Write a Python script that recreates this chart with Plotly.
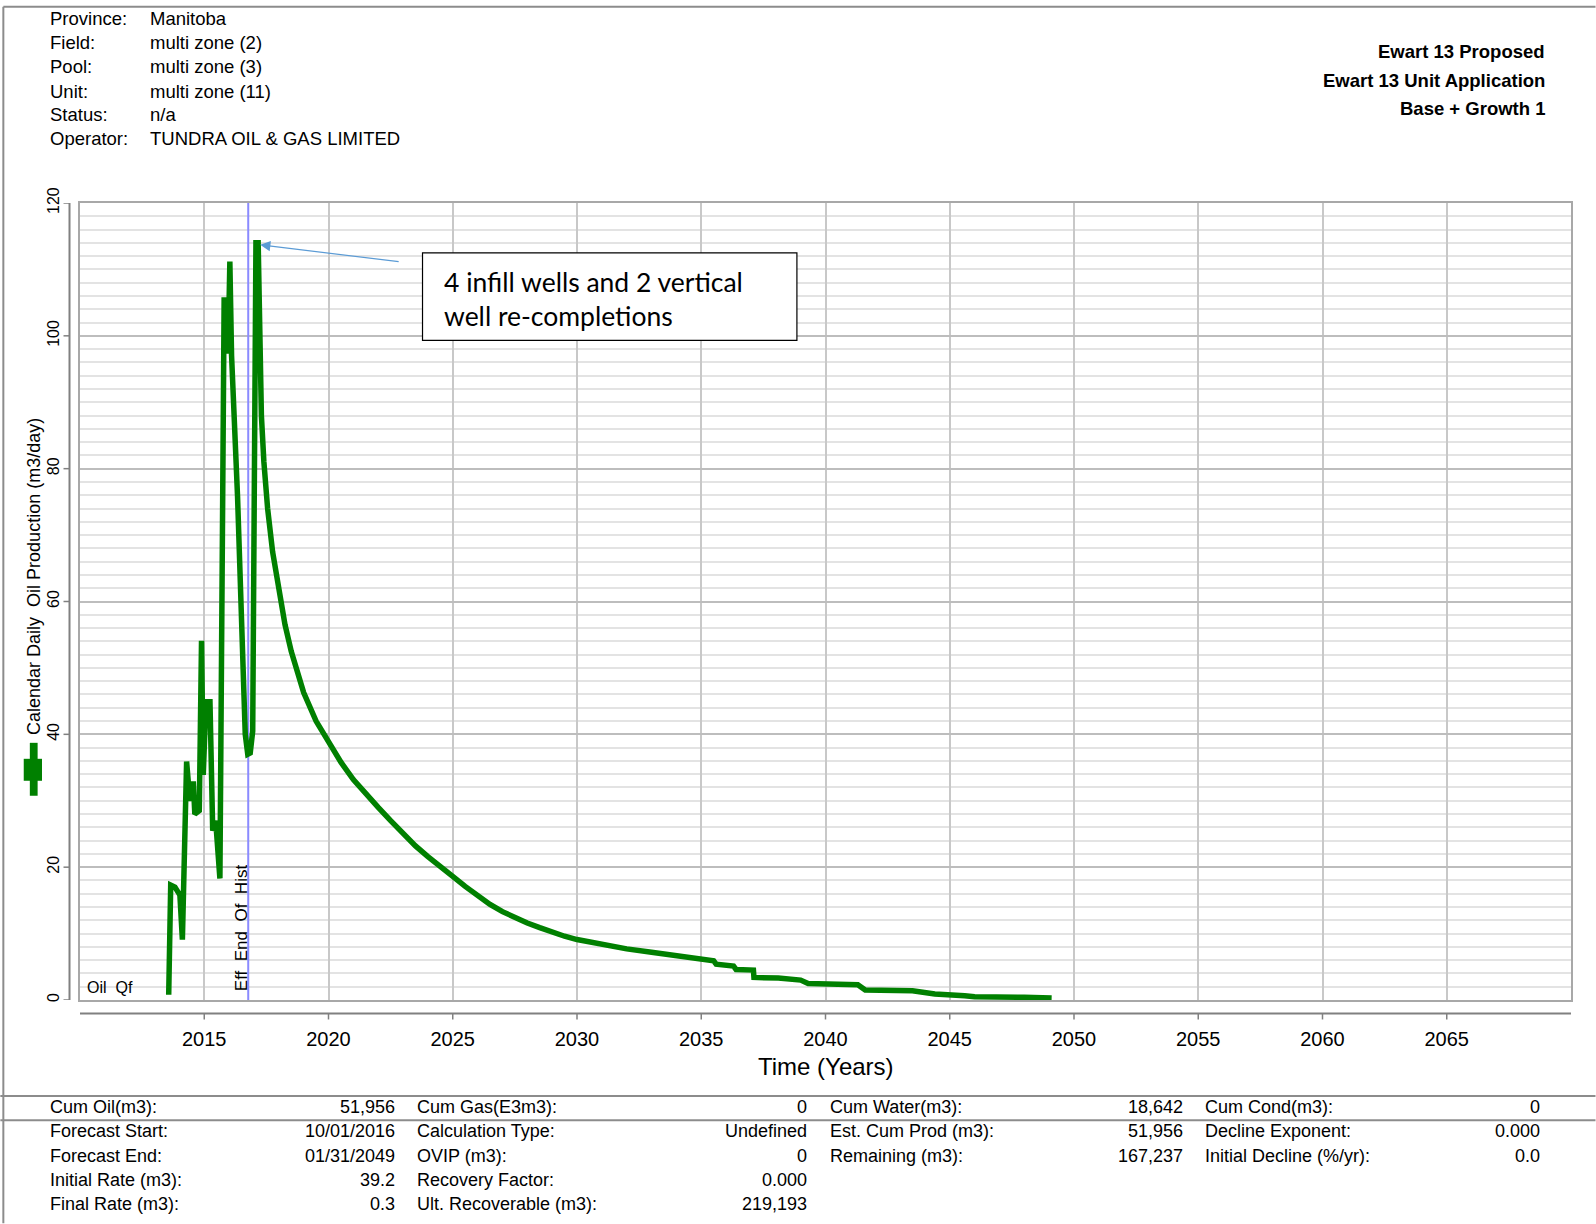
import plotly.graph_objects as go

# ---------------- data ----------------
years = [2013.57, 2013.65, 2013.82, 2014.02, 2014.12, 2014.29, 2014.42, 2014.56, 2014.62,
         2014.80, 2014.89, 2014.96, 2015.07, 2015.23, 2015.34, 2015.46, 2015.63, 2015.80,
         2015.93, 2015.96, 2016.03, 2016.10, 2016.34, 2016.52, 2016.65, 2016.75, 2016.85,
         2016.95, 2017.08, 2017.17, 2017.30, 2017.40, 2017.55, 2017.75, 2018.00, 2018.25,
         2018.50, 2018.75, 2019.00, 2019.50, 2020.00, 2020.50, 2021.00, 2021.50, 2022.00,
         2022.50, 2023.00, 2023.50, 2024.00, 2024.50, 2025.00, 2025.50, 2026.00, 2026.50,
         2027.00, 2027.50, 2028.00, 2028.50, 2029.00, 2029.50, 2030.00, 2030.50, 2031.00,
         2031.50, 2032.00, 2033.00, 2034.00, 2035.00, 2035.50, 2035.60, 2036.30, 2036.40,
         2037.10, 2037.12, 2038.10, 2039.00, 2039.30, 2041.30, 2041.60, 2043.50, 2044.40,
         2045.60, 2046.00, 2048.00, 2049.10]
rates = [0.8, 17.3, 17.0, 15.8, 9.1, 35.9, 30.0, 32.9, 28.0,
         28.5, 54.1, 33.9, 44.9, 44.9, 25.5, 27.0, 18.3, 105.4,
         105.4, 97.3, 111.2, 97.0, 75.8, 52.8, 40.0, 37.0, 37.2,
         40.5, 114.0, 114.0, 88.0, 81.0, 74.0, 67.5, 61.5, 56.5,
         52.5, 49.0, 46.3, 42.0, 38.8, 35.8, 33.2, 31.0, 29.0,
         27.0, 25.0, 23.2, 21.6, 20.2, 18.6, 17.1, 15.7, 14.4,
         13.3, 12.4, 11.6, 10.9, 10.2, 9.6, 9.1, 8.7, 8.3,
         8.0, 7.7, 7.2, 6.6, 6.1, 5.9, 5.4, 5.1, 4.6,
         4.5, 3.4, 3.3, 3.0, 2.5, 2.3, 1.5, 1.4, 0.9,
         0.65, 0.5, 0.4, 0.3]

x_ticks = [2015, 2020, 2025, 2030, 2035, 2040, 2045, 2050, 2055, 2060, 2065]
y_ticks = [0, 20, 40, 60, 80, 100, 120]
x_range = [2010, 2070]
y_range = [0, 120]
eoh_year = 2016.77

header_labels = ["Province:", "Field:", "Pool:", "Unit:", "Status:", "Operator:"]
header_values = ["Manitoba", "multi zone (2)", "multi zone (3)", "multi zone (11)", "n/a",
                 "TUNDRA OIL & GAS LIMITED"]
titles = ["Ewart 13 Proposed", "Ewart 13 Unit Application", "Base + Growth 1"]

tbl_labels_1 = ["Cum Oil(m3):", "Forecast Start:", "Forecast End:", "Initial Rate (m3):", "Final Rate (m3):"]
tbl_values_1 = ["51,956", "10/01/2016", "01/31/2049", "39.2", "0.3"]
tbl_labels_2 = ["Cum Gas(E3m3):", "Calculation Type:", "OVIP (m3):", "Recovery Factor:", "Ult. Recoverable (m3):"]
tbl_values_2 = ["0", "Undefined", "0", "0.000", "219,193"]
tbl_labels_3 = ["Cum Water(m3):", "Est. Cum Prod (m3):", "Remaining (m3):"]
tbl_values_3 = ["18,642", "51,956", "167,237"]
tbl_labels_4 = ["Cum Cond(m3):", "Decline Exponent:", "Initial Decline (%/yr):"]
tbl_values_4 = ["0", "0.000", "0.0"]

note_text = "4 infill wells and 2 vertical<br>well re-completions"
note_point = (2017.25, 113.7)

# ---------------- layout geometry (pixels) ----------------
W, H = 1596, 1224
L, R, T, B = 79.7, 1571.5, 202.5, 1000.5


def fx(p):
    return (p - L) / (R - L)


def fy(p):
    return (B - p) / (B - T)


FONT = "Arial, Liberation Sans, sans-serif"
TXT = "#000000"

fig = go.Figure()
# End-of-history marker line (drawn first so the production curve sits on top)
fig.add_trace(go.Scatter(x=[eoh_year, eoh_year], y=y_range, mode="lines",
                         line=dict(color="#8A8AFF", width=2),
                         showlegend=False, hoverinfo="skip", cliponaxis=False))
fig.add_trace(go.Scatter(x=years, y=rates, mode="lines",
                         line=dict(color="#008000", width=5.5),
                         showlegend=False, hoverinfo="x+y"))

shapes = []
annotations = []

# offset axes
ax_y_x = 69.2
ax_x_y = 1014.0
shapes.append(dict(type="line", xref="paper", yref="paper", x0=fx(ax_y_x), x1=fx(ax_y_x),
                   y0=0, y1=1, line=dict(color="#808080", width=2)))
for v in y_ticks:
    shapes.append(dict(type="line", xref="paper", yref="y", x0=fx(ax_y_x - 6), x1=fx(ax_y_x),
                       y0=v, y1=v, line=dict(color="#808080", width=1.5)))
shapes.append(dict(type="line", xref="paper", yref="paper", x0=0, x1=1,
                   y0=fy(ax_x_y), y1=fy(ax_x_y), line=dict(color="#808080", width=2)))
for v in x_ticks:
    shapes.append(dict(type="line", xref="x", yref="paper", x0=v, x1=v,
                       y0=fy(ax_x_y), y1=fy(ax_x_y + 6), line=dict(color="#808080", width=1.5)))

# outer frame lines
shapes.append(dict(type="line", xref="paper", yref="paper", x0=fx(3), x1=fx(W), y0=fy(6), y1=fy(6),
                   line=dict(color="#8C8C8C", width=2)))
shapes.append(dict(type="line", xref="paper", yref="paper", x0=fx(3), x1=fx(3), y0=fy(6), y1=fy(H),
                   line=dict(color="#8C8C8C", width=2)))
for yy in (1096.5, 1121.0):
    shapes.append(dict(type="line", xref="paper", yref="paper", x0=fx(0), x1=fx(W), y0=fy(yy), y1=fy(yy),
                       line=dict(color="#8C8C8C", width=2)))

# legend cross symbol beside y title
shapes.append(dict(type="rect", xref="paper", yref="paper", x0=fx(29.5), x1=fx(37.3),
                   y0=fy(796), y1=fy(743), fillcolor="#008000", line=dict(width=0)))
shapes.append(dict(type="rect", xref="paper", yref="paper", x0=fx(23.4), x1=fx(41.7),
                   y0=fy(781), y1=fy(759), fillcolor="#008000", line=dict(width=0)))

# note box
shapes.append(dict(type="rect", xref="paper", yref="paper", x0=fx(422.4), x1=fx(797),
                   y0=fy(340), y1=fy(252.4), fillcolor="white",
                   line=dict(color="#000000", width=1.2)))

# header
hdr_y = [17.3, 41.7, 66.2, 90.6, 114.0, 138.4]
for lab, val, yy in zip(header_labels, header_values, hdr_y):
    annotations.append(dict(text=lab, xref="paper", yref="paper", x=fx(47.8), y=fy(yy),
                            xanchor="left", yanchor="middle", showarrow=False,
                            font=dict(family=FONT, size=18.5, color=TXT)))
    annotations.append(dict(text=val, xref="paper", yref="paper", x=fx(147.6), y=fy(yy),
                            xanchor="left", yanchor="middle", showarrow=False,
                            font=dict(family=FONT, size=18.5, color=TXT)))
for t, yy in zip(titles, [50.9, 79.4, 107.9]):
    annotations.append(dict(text="<b>" + t + "</b>", xref="paper", yref="paper", x=fx(1547.5), y=fy(yy),
                            xanchor="right", yanchor="middle", showarrow=False,
                            font=dict(family=FONT, size=18.5, color=TXT)))

# table
row_y = [1107.5, 1131.9, 1156.3, 1180.8, 1205.2]
cols = [(tbl_labels_1, tbl_values_1, 47.8, 397.0),
        (tbl_labels_2, tbl_values_2, 415.3, 809.3),
        (tbl_labels_3, tbl_values_3, 828.6, 1184.9),
        (tbl_labels_4, tbl_values_4, 1203.2, 1542.2)]
for labs, vals, lx, vx in cols:
    for lab, val, yy in zip(labs, vals, row_y):
        annotations.append(dict(text=lab, xref="paper", yref="paper", x=fx(lx), y=fy(yy),
                                xanchor="left", yanchor="middle", showarrow=False,
                                font=dict(family=FONT, size=18, color=TXT)))
        annotations.append(dict(text=val, xref="paper", yref="paper", x=fx(vx), y=fy(yy),
                                xanchor="right", yanchor="middle", showarrow=False,
                                font=dict(family=FONT, size=18, color=TXT)))

# y title
annotations.append(dict(text="Calendar Daily\u00a0\u00a0Oil Production (m3/day)", xref="paper", yref="paper",
                        x=fx(33.6), y=fy(576), textangle=-90, xanchor="center", yanchor="middle",
                        showarrow=False, font=dict(family=FONT, size=18, color=TXT)))
# x title
annotations.append(dict(text="Time (Years)", xref="paper", yref="paper",
                        x=fx(826), y=fy(1067), xanchor="center", yanchor="middle",
                        showarrow=False, font=dict(family=FONT, size=24, color=TXT)))
# in-plot labels
annotations.append(dict(text="Eff\u00a0\u00a0End\u00a0\u00a0Of\u00a0\u00a0Hist", xref="x", yref="y",
                        x=2016.50, y=10.9, textangle=-90, xanchor="center", yanchor="middle",
                        showarrow=False, font=dict(family=FONT, size=17, color=TXT)))
annotations.append(dict(text="Oil\u00a0\u00a0Qf", xref="x", yref="y", x=2010.19, y=1.9,
                        xanchor="left", yanchor="middle", showarrow=False,
                        font=dict(family=FONT, size=16, color=TXT)))
# note text and arrow
annotations.append(dict(text=note_text, xref="paper", yref="paper", x=fx(441.5), y=fy(298.5),
                        xanchor="left", yanchor="middle", align="left", showarrow=False,
                        font=dict(family="Lato, Carlito, sans-serif", size=26.5, color="#000000")))
annotations.append(dict(text="", x=note_point[0], y=note_point[1], xref="x", yref="y",
                        showarrow=True, ax=140, ay=17, arrowcolor="#5B9BD5", arrowwidth=1.2,
                        arrowhead=2, arrowsize=1.7, standoff=0))

fig.update_layout(
    width=W, height=H, autosize=False,
    margin=dict(l=L, r=W - R, t=T, b=H - B, pad=0),
    paper_bgcolor="white", plot_bgcolor="white",
    showlegend=False,
    shapes=shapes, annotations=annotations,
    xaxis=dict(range=x_range, tickmode="array", tickvals=x_ticks, ticks="",
               showgrid=True, gridcolor="#C8C8C8", gridwidth=2,
               showline=True, mirror=True, linecolor="#A8A8A8", linewidth=1.5,
               zeroline=False, ticklabelstandoff=20,
               tickfont=dict(family=FONT, size=20, color=TXT)),
    yaxis=dict(range=y_range, tickmode="array", tickvals=y_ticks, ticks="",
               showgrid=True, gridcolor="#BDBDBD", gridwidth=1.5,
               minor=dict(dtick=2, showgrid=True, gridcolor="#E3E3E3", gridwidth=1.5, ticks=""),
               showline=True, mirror=True, linecolor="#A8A8A8", linewidth=1.5,
               zeroline=True, zerolinecolor="#8EE88E", zerolinewidth=3,
               tickangle=-90, ticklabelstandoff=13,
               tickfont=dict(family=FONT, size=16, color=TXT)),
)

fig.write_html("out.html", config={"displayModeBar": False},
               post_script="document.body.style.margin='0px';document.body.style.padding='0px';")
